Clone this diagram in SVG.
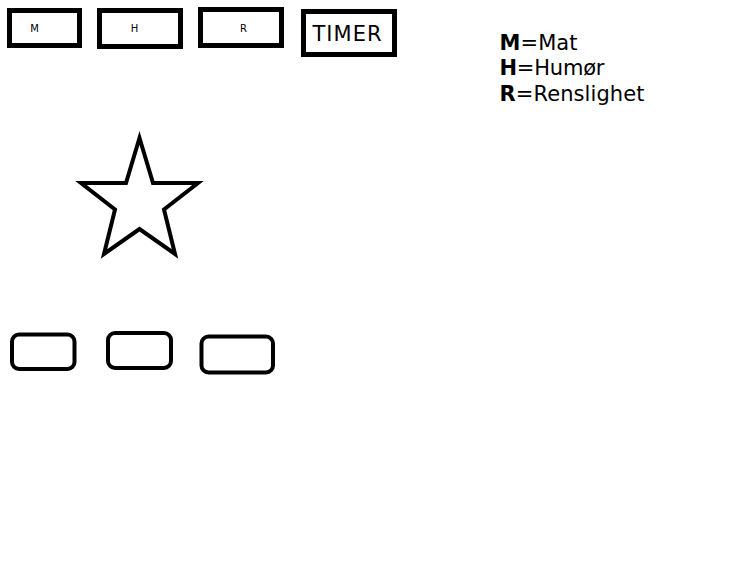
<svg xmlns="http://www.w3.org/2000/svg" width="751" height="582" viewBox="0 0 751 582">
<style>
.box{fill:#fff;stroke:#000;stroke-width:5}
.rbox{fill:#fff;stroke:#000;stroke-width:4}
.lbl{font-family:"DejaVu Sans",Verdana,sans-serif;fill:#000}
.small{font-size:10px;text-anchor:middle}
.big{font-size:21px}
.leg{font-size:21px}
.b{font-weight:bold}
</style>
<rect width="751" height="582" fill="#fff"/>
<g id="box-m"><rect class="box" x="9.5" y="10.5" width="70" height="35"/><text class="lbl small" x="34.5" y="31.5">M</text></g>
<g id="box-h"><rect class="box" x="99.5" y="10.5" width="81" height="36"/><text class="lbl small" x="134.5" y="32">H</text></g>
<g id="box-r"><rect class="box" x="200.5" y="9.5" width="81" height="36"/><text class="lbl small" x="243.5" y="31.5">R</text></g>
<g id="box-timer"><rect class="box" x="303.5" y="11.5" width="91" height="43"/><text class="lbl big" x="312.5" y="40.5" textLength="69" lengthAdjust="spacing">TIMER</text></g>
<g id="legend">
<text class="lbl leg" x="499.5" y="49.5" textLength="78" lengthAdjust="spacing"><tspan class="b">M</tspan>=Mat</text>
<text class="lbl leg" x="499.5" y="75" textLength="105" lengthAdjust="spacing"><tspan class="b">H</tspan>=Humør</text>
<text class="lbl leg" x="499.5" y="100.5" textLength="145" lengthAdjust="spacing"><tspan class="b">R</tspan>=Renslighet</text>
</g>
<g id="star"><path d="M139.5,138 L153,183 L198,183 L164,209.5 L175,254 L139.5,229 L104,254 L115,209.5 L81,183 L126,183 Z" fill="#fff" stroke="#000" stroke-width="4" stroke-linejoin="miter"/></g>
<g id="btn-1"><rect class="rbox" x="12" y="334.5" width="62.5" height="34.5" rx="7"/></g>
<g id="btn-2"><rect class="rbox" x="108" y="333" width="63" height="35" rx="7"/></g>
<g id="btn-3"><rect class="rbox" x="201.5" y="336.5" width="71.5" height="36" rx="7"/></g>
<g id="connectors"/>
</svg>
